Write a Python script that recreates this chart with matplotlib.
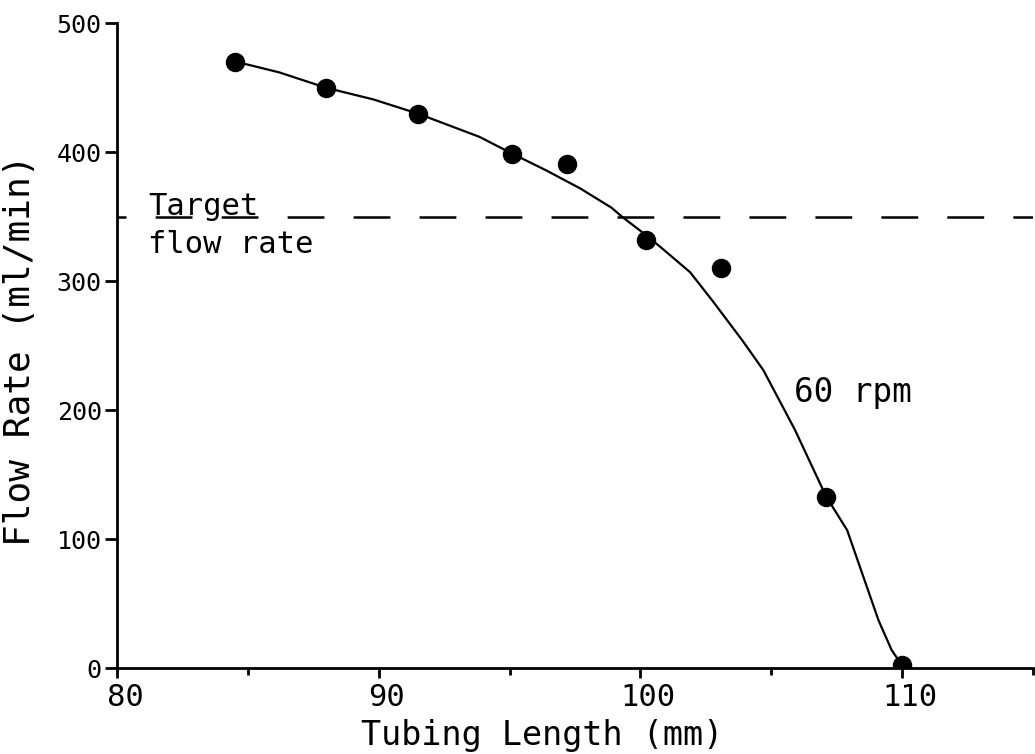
import matplotlib.pyplot as plt
from matplotlib.ticker import MultipleLocator
from matplotlib.transforms import ScaledTranslation

# measured flow rate at 60 rpm
length_mm = [84.5, 88.0, 91.5, 95.1, 97.2, 100.2, 103.1, 107.1, 110.0]
flow_ml_min = [470, 450, 430, 399, 391, 332, 310, 133, 2]

# hand-drawn trend curve through the measurements
curve_x = [84.6, 86.2, 88.0, 89.8, 91.5, 93.85, 95.1, 96.4, 97.7, 98.9,
           99.3, 100.2, 100.8, 101.9, 102.75, 103.9, 104.7, 105.9, 107.1,
           107.9, 108.5, 109.1, 109.6, 110.0]
curve_y = [470, 462, 450, 441, 430, 412, 399, 386, 372, 357,
           350, 336, 326, 307, 285, 254, 231, 185, 133,
           107, 72, 37, 14, 2]

target_flow = 350
x_ticks = [80, 90, 100, 110]
y_ticks = [0, 100, 200, 300, 400, 500]

plt.rcParams['font.family'] = 'DejaVu Sans Mono'
plt.rcParams['lines.scale_dashes'] = False

fig = plt.figure(figsize=(10.35, 7.54), dpi=100)
ax = fig.add_axes([0.113, 0.114, 0.885, 0.855])

ax.plot(curve_x, curve_y, color='black', linewidth=1.6,
        solid_joinstyle='round', zorder=2)
ax.plot(length_mm, flow_ml_min, 'o', color='black', markersize=13, zorder=3)
ax.axhline(target_flow, color='black', linewidth=1.8,
           linestyle=(20, (26.5, 21)), zorder=1)

ax.text(81.18, 351, 'Target', fontsize=22, va='baseline', ha='left')
ax.text(81.18, 322, 'flow rate', fontsize=22, va='baseline', ha='left')
ax.text(105.88, 206, '60 rpm', fontsize=23.5, va='baseline', ha='left')

ax.set_xlim(80, 115)
ax.set_ylim(0, 500)
ax.set_xticks(x_ticks)
ax.set_yticks(y_ticks)
ax.xaxis.set_minor_locator(MultipleLocator(5))

for side in ['top', 'right']:
    ax.spines[side].set_visible(False)
for side in ['left', 'bottom']:
    ax.spines[side].set_linewidth(2)

ax.tick_params(axis='x', which='major', direction='out', length=7,
               width=2, labelsize=22, pad=4)
ax.tick_params(axis='x', which='minor', direction='out', length=5, width=2)
ax.tick_params(axis='y', which='major', direction='out', length=9,
               width=2, labelsize=18, pad=2)

# x tick labels sit a little right of their ticks
shift = ScaledTranslation(8 / 100, 0, fig.dpi_scale_trans)
for lbl in ax.get_xticklabels():
    lbl.set_transform(lbl.get_transform() + shift)

fig.text(542 / 1035, 1 - 736 / 754, 'Tubing Length (mm)', fontsize=24,
         ha='center', va='center')
fig.text(20 / 1035, 1 - 350 / 754, 'Flow Rate (ml/min)', fontsize=26,
         ha='center', va='center', rotation=90)

fig.savefig('out.png', dpi=100)
